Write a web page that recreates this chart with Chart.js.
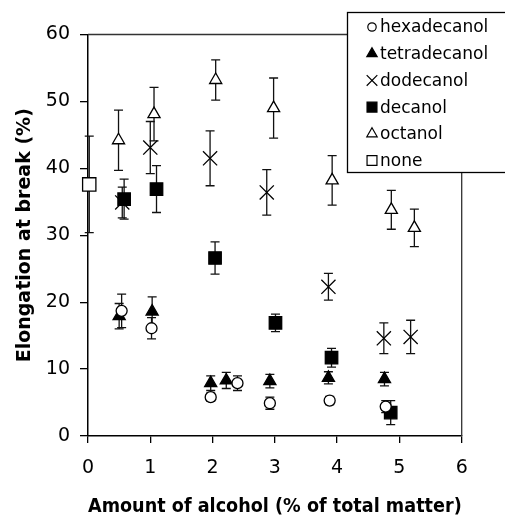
<!DOCTYPE html>
<html>
<head>
<meta charset="utf-8">
<script src="https://cdn.jsdelivr.net/npm/chart.js@4.4.1/dist/chart.umd.min.js"></script>
<style>
    html, body { margin: 0; padding: 0; background: #fff; }
</style>
</head>
<body>
<canvas id="chart" width="505" height="518"></canvas>
<script>
// amount of alcohol (% of total matter) vs elongation at break (%), err = +/- deviation
const seriesNames = ["hexadecanol", "tetradecanol", "dodecanol", "decanol", "octanol", "none"];

const hexadecanolX = [0.54, 1.02, 1.97, 2.40, 2.92, 3.88, 4.78];
const hexadecanolY = [18.7, 16.1, 5.8, 7.9, 4.9, 5.3, 4.4];
const hexadecanolErr = [2.5, 1.6, 0.6, 1.1, 0.9, 0.6, 0.9];

const tetradecanolX = [0.50, 1.03, 1.97, 2.22, 2.92, 3.86, 4.76];
const tetradecanolY = [17.9, 18.6, 7.9, 8.3, 8.2, 8.7, 8.5];
const tetradecanolErr = [1.9, 2.2, 1.1, 1.2, 1.0, 0.9, 1.0];

const dodecanolX = [0.55, 1.00, 1.96, 2.87, 3.86, 4.75, 5.18];
const dodecanolY = [34.9, 43.1, 41.5, 36.4, 22.3, 14.6, 14.8];
const dodecanolErr = [2.3, 3.9, 4.1, 3.4, 2.0, 2.3, 2.5];

const decanolX = [0.58, 1.10, 2.04, 3.01, 3.91, 4.86];
const decanolY = [35.4, 36.9, 26.6, 16.9, 11.7, 3.5];
const decanolErr = [3.0, 3.5, 2.4, 1.3, 1.4, 1.8];

const octanolX = [0.49, 1.06, 2.05, 2.98, 3.92, 4.87, 5.24];
const octanolY = [44.2, 48.1, 53.2, 49.0, 38.2, 33.8, 31.1];
const octanolErr = [4.5, 4.0, 3.0, 4.5, 3.7, 2.9, 2.8];

const noneX = [0.02];
const noneY = [37.6];
const noneErr = [7.2];

const xTicks = [0, 1, 2, 3, 4, 5, 6];
const yTicks = [0, 10, 20, 30, 40, 50, 60];

function toPoints(xs, ys, errs) {
    return xs.map((x, i) => ({x: x, y: ys[i], err: errs[i]}));
}

// marker look per series: [pointStyle, radius, fill, legend radius]
const markers = [
    ['circle', 5.5, '#fff', 4.2],
    ['triangle', 7, '#000', 6],
    ['crossRot', 10, '#000', 7.5],
    ['rect', 8.8, '#000', 7],
    ['triangle', 7, '#fff', 6],
    ['rect', 9.4, '#fff', 7]
];

const allData = [
    toPoints(hexadecanolX, hexadecanolY, hexadecanolErr),
    toPoints(tetradecanolX, tetradecanolY, tetradecanolErr),
    toPoints(dodecanolX, dodecanolY, dodecanolErr),
    toPoints(decanolX, decanolY, decanolErr),
    toPoints(octanolX, octanolY, octanolErr),
    toPoints(noneX, noneY, noneErr)
];

const datasets = seriesNames.map((name, i) => ({
    label: name,
    data: allData[i],
    pointStyle: markers[i][0],
    pointRadius: markers[i][1],
    pointHoverRadius: markers[i][1],
    backgroundColor: markers[i][2],
    borderColor: '#000',
    borderWidth: 1.3,
    showLine: false,
    clip: false
}));

// vertical error bars with short caps, drawn under the markers
const errorBars = {
    id: 'errorBars',
    beforeDatasetsDraw(chart) {
        const ctx = chart.ctx;
        const xs = chart.scales.x;
        const ys = chart.scales.y;
        ctx.save();
        ctx.strokeStyle = '#111';
        ctx.lineWidth = 1.3;
        chart.data.datasets.forEach(ds => {
            ds.data.forEach(p => {
                const px = xs.getPixelForValue(p.x);
                const top = ys.getPixelForValue(p.y + p.err);
                const bot = ys.getPixelForValue(p.y - p.err);
                ctx.beginPath();
                ctx.moveTo(px, top);
                ctx.lineTo(px, bot);
                ctx.moveTo(px - 4.5, top);
                ctx.lineTo(px + 4.5, top);
                ctx.moveTo(px - 4.5, bot);
                ctx.lineTo(px + 4.5, bot);
                ctx.stroke();
            });
        });
        ctx.restore();
    }
};

// top and right edges of the plot box
const frame = {
    id: 'frame',
    beforeDatasetsDraw(chart) {
        const {ctx, chartArea} = chart;
        ctx.save();
        ctx.strokeStyle = '#333';
        ctx.lineWidth = 1.3;
        ctx.beginPath();
        ctx.moveTo(chartArea.left, chartArea.top);
        ctx.lineTo(chartArea.right, chartArea.top);
        ctx.lineTo(chartArea.right, chartArea.bottom);
        ctx.stroke();
        ctx.restore();
    }
};

// boxed legend in the upper right corner
const boxLegend = {
    id: 'boxLegend',
    afterDraw(chart) {
        const ctx = chart.ctx;
        ctx.save();
        ctx.fillStyle = '#fff';
        ctx.strokeStyle = '#000';
        ctx.lineWidth = 1.3;
        ctx.fillRect(347.5, 12.5, 160, 160);
        ctx.strokeRect(347.5, 12.5, 160, 160);
        ctx.font = '17px "DejaVu Sans"';
        ctx.textBaseline = 'middle';
        ctx.textAlign = 'left';
        chart.data.datasets.forEach((ds, i) => {
            const y = 27 + i * 26.7;
            ctx.fillStyle = ds.backgroundColor;
            ctx.strokeStyle = '#000';
            ctx.lineWidth = 1.2;
            Chart.helpers.drawPoint(ctx, {pointStyle: ds.pointStyle, radius: markers[i][3], rotation: 0, borderWidth: 1.2}, 372, y);
            ctx.fillStyle = '#000';
            ctx.fillText(ds.label, 380, y + 1);
        });
        ctx.restore();
    }
};

new Chart(document.getElementById('chart').getContext('2d'), {
    type: 'scatter',
    data: {datasets: datasets},
    plugins: [errorBars, frame, boxLegend],
    options: {
        responsive: false,
        animation: false,
        devicePixelRatio: 1,
        layout: {padding: {left: 0, right: 43.3, top: 34.5, bottom: 0}},
        plugins: {
            legend: {display: false},
            tooltip: {enabled: false}
        },
        scales: {
            x: {
                type: 'linear',
                min: 0,
                max: 6,
                afterBuildTicks: scale => { scale.ticks = xTicks.map(v => ({value: v})); },
                afterFit: scale => { scale.height = 82; },
                ticks: {
                    color: '#000',
                    padding: 14,
                    font: {family: '"DejaVu Sans"', size: 19}
                },
                grid: {drawOnChartArea: false, drawTicks: true, tickLength: 7, color: '#000', lineWidth: 1.3},
                border: {display: true, color: '#000', width: 1.5},
                title: {
                    display: true,
                    text: 'Amount of alcohol (% of total matter)',
                    color: '#000',
                    font: {family: '"DejaVu Sans"', size: 19, weight: 'bold'},
                    padding: {top: 0, bottom: 0}
                }
            },
            y: {
                type: 'linear',
                min: 0,
                max: 60,
                afterBuildTicks: scale => { scale.ticks = yTicks.map(v => ({value: v})); },
                afterFit: scale => { scale.width = 88; },
                ticks: {
                    color: '#000',
                    padding: 10,
                    font: {family: '"DejaVu Sans"', size: 19}
                },
                grid: {drawOnChartArea: false, drawTicks: true, tickLength: 8, color: '#000', lineWidth: 1.3},
                border: {display: true, color: '#000', width: 1.5},
                title: {
                    display: true,
                    text: 'Elongation at break (%)',
                    color: '#000',
                    font: {family: '"DejaVu Sans"', size: 19, weight: 'bold'},
                    padding: {top: 14, bottom: 0}
                }
            }
        }
    }
});
</script>
</body>
</html>
